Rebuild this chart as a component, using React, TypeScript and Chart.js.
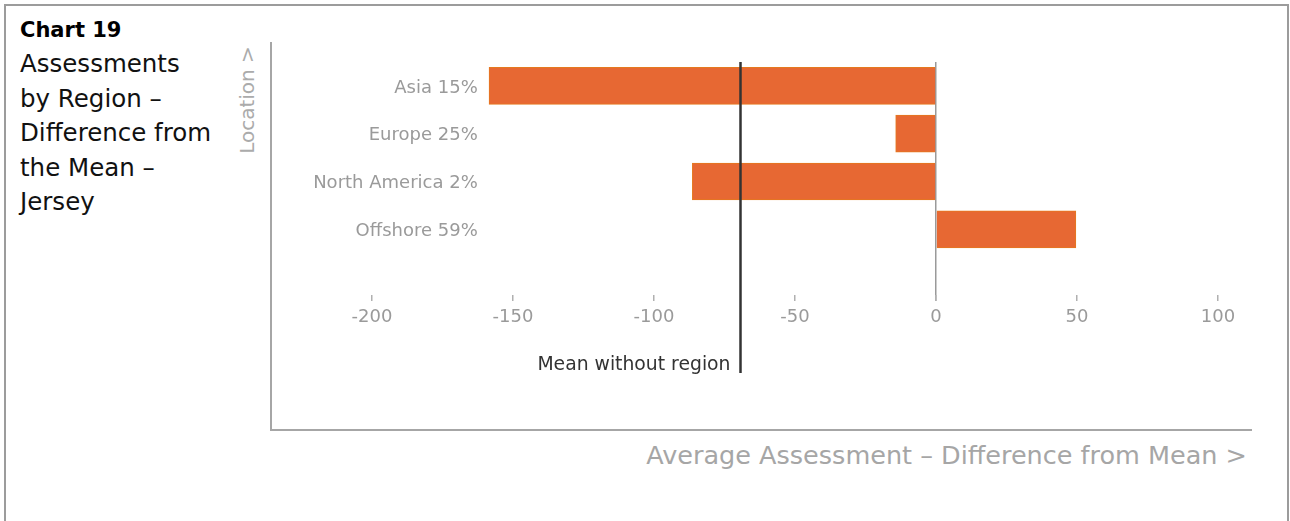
import React, { useEffect, useRef } from "react";
import { Chart, registerables } from "chart.js";

Chart.register(...registerables);

// ---- data ----
const categories = ["Asia 15%", "Europe 25%", "North America 2%", "Offshore 59%", ""];
const differences = [-158.5, -14.3, -86.4, 49.6];
const meanWithoutRegion = -69.5;
const meanLabel = "Mean without region";
const xTicks = [-200, -150, -100, -50, 0, 50, 100];
const chartTitle = "Chart 19";
const titleLines = ["Assessments", "by Region –", "Difference from", "the Mean –", "Jersey"];
const yAxisTitle = "Location >";
const xAxisTitle = "Average Assessment – Difference from Mean >";

const FONT = '"DejaVu Sans", sans-serif';

const meanLinePlugin = {
  id: "meanLine",
  afterDatasetsDraw(chart: any) {
    const { ctx, chartArea, scales } = chart;
    const px = Math.round(scales.x.getPixelForValue(meanWithoutRegion)) + 0.5;
    ctx.save();
    ctx.strokeStyle = "#333333";
    ctx.lineWidth = 2.5;
    ctx.beginPath();
    ctx.moveTo(px, chartArea.top);
    ctx.lineTo(px, chartArea.bottom + 72);
    ctx.stroke();
    ctx.fillStyle = "#333333";
    ctx.font = `18.8px ${FONT}`;
    ctx.textAlign = "right";
    ctx.textBaseline = "middle";
    ctx.fillText(meanLabel, px - 10, chartArea.bottom + 64);
    ctx.restore();
  },
};

function BarChart() {
  const ref = useRef<HTMLCanvasElement | null>(null);
  useEffect(() => {
    if (!ref.current) return;
    const chart = new Chart(ref.current, {
      type: "bar",
      data: {
        labels: categories,
        datasets: [
          {
            data: differences,
            backgroundColor: "#E76833",
            borderColor: "#E5791F",
            borderWidth: 1,
            barThickness: 37,
          },
        ],
      },
      options: {
        indexAxis: "y",
        animation: false,
        responsive: true,
        maintainAspectRatio: false,
        layout: { padding: { left: 100, right: 34, top: 20, bottom: 88 } },
        plugins: { legend: { display: false }, tooltip: { enabled: false } },
        scales: {
          x: {
            type: "linear",
            min: -200,
            max: 100,
            afterBuildTicks: (scale: any) => {
              scale.ticks = xTicks.map((value) => ({ value }));
            },
            afterFit: (scale: any) => {
              scale.height = 40;
            },
            grid: {
              color: (ctx: any) =>
                ctx.tick && ctx.tick.value === 0 ? "#9a9a9a" : "rgba(0,0,0,0)",
              lineWidth: 1.5,
              tickColor: "#b0b0b0",
              tickLength: -6,
            },
            border: { display: false },
            ticks: {
              color: "#9a9a9a",
              font: { family: FONT, size: 18 },
              padding: 12,
            },
          },
          y: {
            type: "category",
            position: { x: -162.5 } as any,
            grid: { display: false },
            border: { display: false },
            ticks: {
              color: "#9a9a9a",
              font: { family: FONT, size: 18 },
              labelOffset: 2,
            },
          },
        },
      } as any,
      plugins: [meanLinePlugin],
    });
    return () => chart.destroy();
  }, []);
  return <canvas ref={ref} />;
}

export default function App() {
  useEffect(() => {
    document.body.style.margin = "0";
  }, []);
  return (
    <div
      style={{
        position: "relative",
        width: 1290,
        height: 521,
        overflow: "hidden",
        background: "#ffffff",
        fontFamily: FONT,
      }}
    >
      <div
        style={{
          position: "absolute",
          left: 4,
          top: 4,
          width: 1285,
          height: 700,
          border: "2px solid #9c9c9c",
          boxSizing: "border-box",
        }}
      />
      <div
        style={{
          position: "absolute",
          left: 20,
          top: 13,
          fontSize: 21,
          lineHeight: "34px",
          fontWeight: "bold",
          color: "#000",
          whiteSpace: "nowrap",
        }}
      >
        {chartTitle}
      </div>
      <div
        style={{
          position: "absolute",
          left: 20,
          top: 47,
          fontSize: 24.5,
          lineHeight: "34.5px",
          color: "#111",
          whiteSpace: "nowrap",
        }}
      >
        {titleLines.map((l, i) => (
          <div key={i}>{l}</div>
        ))}
      </div>
      <div
        style={{
          position: "absolute",
          left: 247,
          top: 100,
          transform: "translate(-50%, -50%) rotate(-90deg)",
          fontSize: 20,
          lineHeight: "24px",
          color: "#ababab",
          whiteSpace: "nowrap",
        }}
      >
        {yAxisTitle}
      </div>
      <div
        style={{
          position: "absolute",
          left: 270,
          top: 42,
          width: 980,
          height: 387,
          borderLeft: "2px solid #a6a6a6",
          borderBottom: "2px solid #a6a6a6",
        }}
      >
        <div style={{ position: "relative", width: 980, height: 387 }}>
          <BarChart />
        </div>
      </div>
      <div
        style={{
          position: "absolute",
          right: 43,
          top: 441,
          fontSize: 25.5,
          lineHeight: "28px",
          color: "#a6a6a6",
          whiteSpace: "nowrap",
        }}
      >
        {xAxisTitle}
      </div>
    </div>
  );
}
